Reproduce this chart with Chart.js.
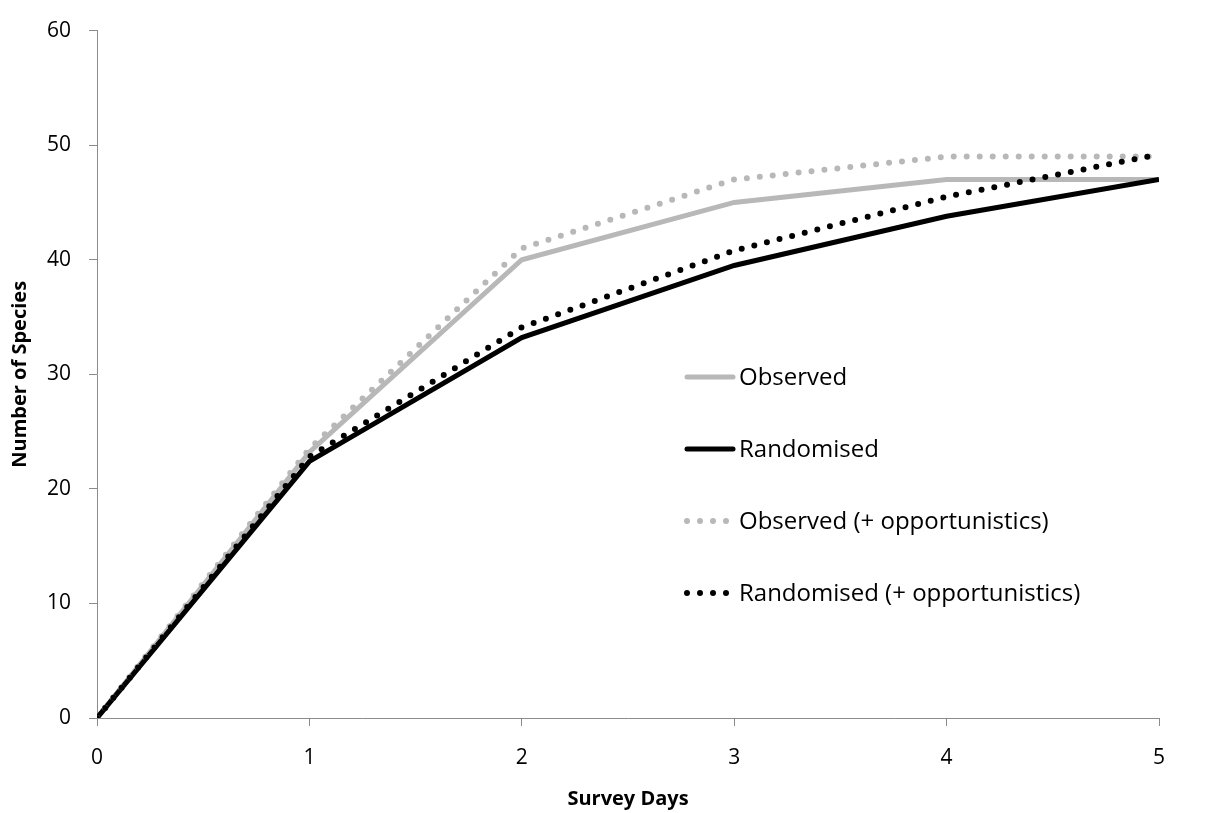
<!DOCTYPE html>
<html>
<head>
<meta charset="utf-8">
<script src="https://cdn.jsdelivr.net/npm/chart.js@4"></script>
<style>
  html, body { margin: 0; padding: 0; background: #fff; }
  #wrap { width: 1211px; height: 813px; }
</style>
</head>
<body>
<div id="wrap"><canvas id="chart" width="1211" height="813"></canvas></div>
<script>
// survey days on the x axis
const days = [0, 1, 2, 3, 4, 5];

// species counts
const observed = [0, 23.2, 40, 45, 47, 47];
const randomised = [0, 22.4, 33.2, 39.5, 43.8, 47];
const observedOpp = [0, 23.5, 41, 47, 49, 49];
const randomisedOpp = [0, 22.8, 34.1, 40.8, 45.5, 49.2];

const seriesNames = ['Observed', 'Randomised', 'Observed (+ opportunistics)', 'Randomised (+ opportunistics)'];

const GREY = '#b8b8b8';
const BLACK = '#000000';
const FONT = "'Open Sans', 'Liberation Sans', sans-serif";

function pts(vals) {
    return vals.map((v, i) => ({x: days[i], y: v}));
}

function solid(label, vals, color, order) {
    return {
        label: label,
        data: pts(vals),
        borderColor: color,
        backgroundColor: color,
        borderWidth: 5,
        pointRadius: 0,
        tension: 0,
        order: order
    };
}

function dotted(label, vals, color, order) {
    return {
        label: label,
        data: pts(vals),
        borderColor: color,
        backgroundColor: color,
        borderWidth: 6,
        borderDash: [0, 13],
        borderCapStyle: 'round',
        pointRadius: 0,
        tension: 0,
        order: order
    };
}

// legend drawn inside the plot, like the original
const insideLegend = {
    id: 'insideLegend',
    afterDraw(chart) {
        const ctx = chart.ctx;
        const x0 = 687, x1 = 733, tx = 739;
        const rows = [377, 449, 521, 593];
        ctx.save();
        chart.data.datasets.forEach((ds, i) => {
            const y = rows[i];
            ctx.beginPath();
            ctx.strokeStyle = ds.borderColor;
            ctx.lineWidth = ds.borderWidth;
            ctx.lineCap = 'round';
            ctx.setLineDash(ds.borderDash || []);
            ctx.moveTo(x0, y);
            ctx.lineTo(x1, y);
            ctx.stroke();
            ctx.setLineDash([]);
            ctx.fillStyle = '#000';
            ctx.font = '24px ' + FONT;
            ctx.textAlign = 'left';
            ctx.textBaseline = 'middle';
            ctx.fillText(ds.label, tx, y + 1);
        });
        ctx.restore();
    }
};

new Chart(document.getElementById('chart').getContext('2d'), {
    type: 'line',
    data: {
        datasets: [
            solid(seriesNames[0], observed, GREY, 3),
            solid(seriesNames[1], randomised, BLACK, 2),
            dotted(seriesNames[2], observedOpp, GREY, 1),
            dotted(seriesNames[3], randomisedOpp, BLACK, 0)
        ]
    },
    options: {
        responsive: false,
        animation: false,
        layout: { padding: { left: 4, right: 52, top: 29, bottom: 0 } },
        plugins: {
            legend: { display: false },
            tooltip: { enabled: false }
        },
        scales: {
            x: {
                type: 'linear',
                min: 0,
                max: 5,
                ticks: { stepSize: 1, color: '#000', font: { family: FONT, size: 21 }, padding: 19 },
                grid: { display: true, drawOnChartArea: false, drawTicks: true, tickLength: 8, color: '#8c8c8c' },
                border: { color: '#8c8c8c', width: 1 },
                title: { display: true, text: 'Survey Days', color: '#000', font: { family: FONT, size: 20, weight: 'bold' }, padding: { top: 4, bottom: 2 } },
                afterFit(scale) { scale.height = 95; }
            },
            y: {
                min: 0,
                max: 60,
                ticks: { stepSize: 10, color: '#000', font: { family: FONT, size: 21 }, padding: 18 },
                grid: { display: true, drawOnChartArea: false, drawTicks: true, tickLength: 8, color: '#8c8c8c' },
                border: { color: '#8c8c8c', width: 1 },
                title: { display: true, text: 'Number of Species', color: '#000', font: { family: FONT, size: 20, weight: 'bold' }, padding: { bottom: 6 } },
                afterFit(scale) { scale.width = 93; }
            }
        }
    },
    plugins: [insideLegend]
});
</script>
</body>
</html>
